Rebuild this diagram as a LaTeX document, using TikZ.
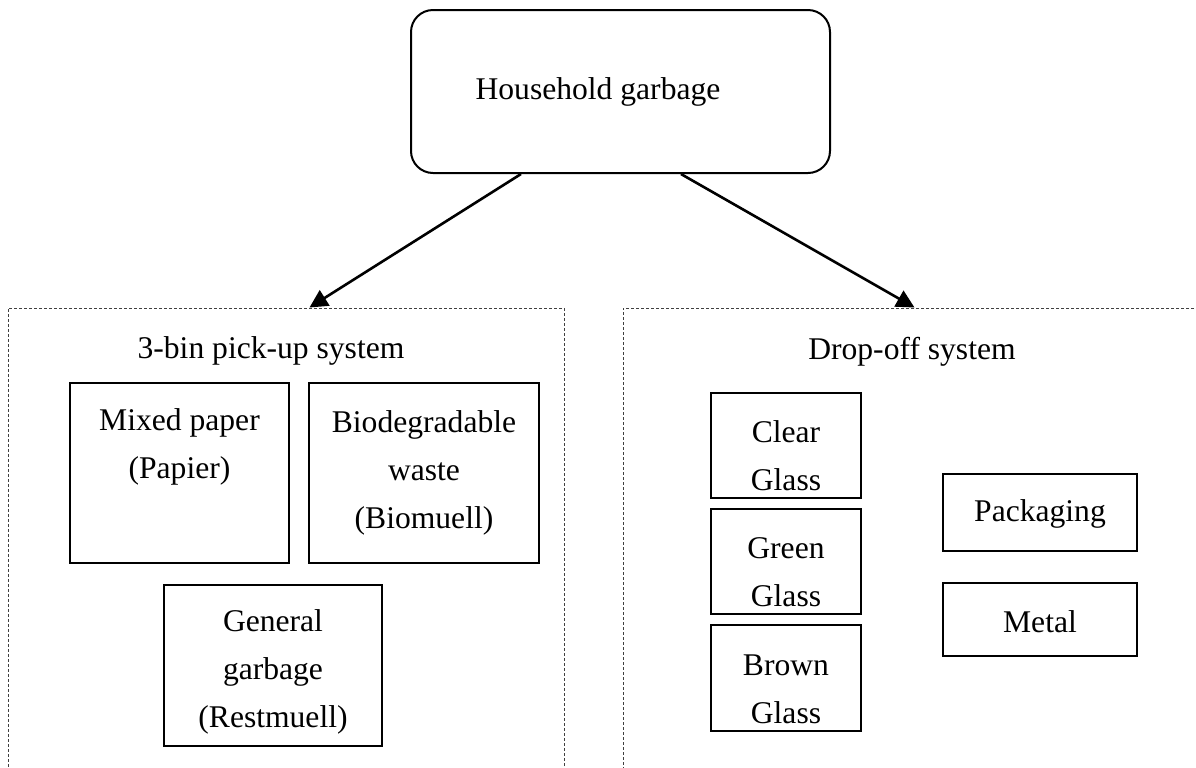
\documentclass[tikz,border=0pt]{standalone}
\usepackage{fontspec}
\setmainfont{Liberation Serif}
\usetikzlibrary{arrows.meta,calc,fit}

\tikzset{
  txt/.style={font=\fontsize{15.8pt}{24pt}\selectfont, align=center, inner sep=0pt},
  binbox/.style={draw, line width=1pt, inner sep=0pt},
  roundbox/.style={draw, line width=1pt, inner sep=0pt, rounded corners=11pt},
  frame/.style={draw=black!75, line width=0.5pt, dash pattern=on 1.5pt off 1pt, inner sep=0pt},
  flow/.style={line width=1.3pt, -{Triangle[length=9pt,width=9pt]}}
}

\begin{document}
\begin{tikzpicture}[x=0.5pt, y=-0.5pt]
\useasboundingbox (0,0) rectangle (1196,767);
\clip (0,0) rectangle (1196,767);

% source
\node[roundbox, fit={(411,10) (830,173)}] (house) {};
\node[txt] (houselbl) at (598,92) {Household garbage};

% the two collection systems (open towards the page edges)
\node[frame, fit={(8,308) (564,800)}] (pickup) {};
\node[frame, fit={(623,308) (1260,800)}] (dropoff) {};
\node[txt] (pickuplbl) at (271,351) {3-bin pick-up system};
\node[txt] (dropofflbl) at (912,352) {Drop-off system};

% pick-up bins
\node[binbox, fit={(70,383) (289,563)}] (paper) {};
\node[txt] (paperlbl) at (179.5,447) {Mixed paper\\(Papier)};
\node[binbox, fit={(309,383) (539,563)}] (bio) {};
\node[txt] (biolbl) at (424,473) {Biodegradable\\waste\\(Biomuell)};
\node[binbox, fit={(164,585) (382,746)}] (general) {};
\node[txt] (generallbl) at (273,672) {General\\garbage\\(Restmuell)};

% drop-off containers
\node[binbox, fit={(711,393) (861,498)}] (clear) {};
\node[txt] (clearlbl) at (786,456) {Clear\\Glass};
\node[binbox, fit={(711,509) (861,614)}] (green) {};
\node[txt] (greenlbl) at (786,572) {Green\\Glass};
\node[binbox, fit={(711,625) (861,731)}] (brown) {};
\node[txt] (brownlbl) at (786,689) {Brown\\Glass};
\node[binbox, fit={(943,474) (1137,551)}] (pack) {};
\node[txt] (packlbl) at (1040,514) {Packaging};
\node[binbox, fit={(943,583) (1137,656)}] (metal) {};
\node[txt] (metallbl) at (1040,622) {Metal};

% flows
\draw[flow] ($(house.south west)+(111,0)$) -- ($(pickup.north west)+(302,0)$);
\draw[flow] ($(house.south west)+(271,0)$) -- ($(dropoff.north west)+(292,0)$);
\end{tikzpicture}
\end{document}
